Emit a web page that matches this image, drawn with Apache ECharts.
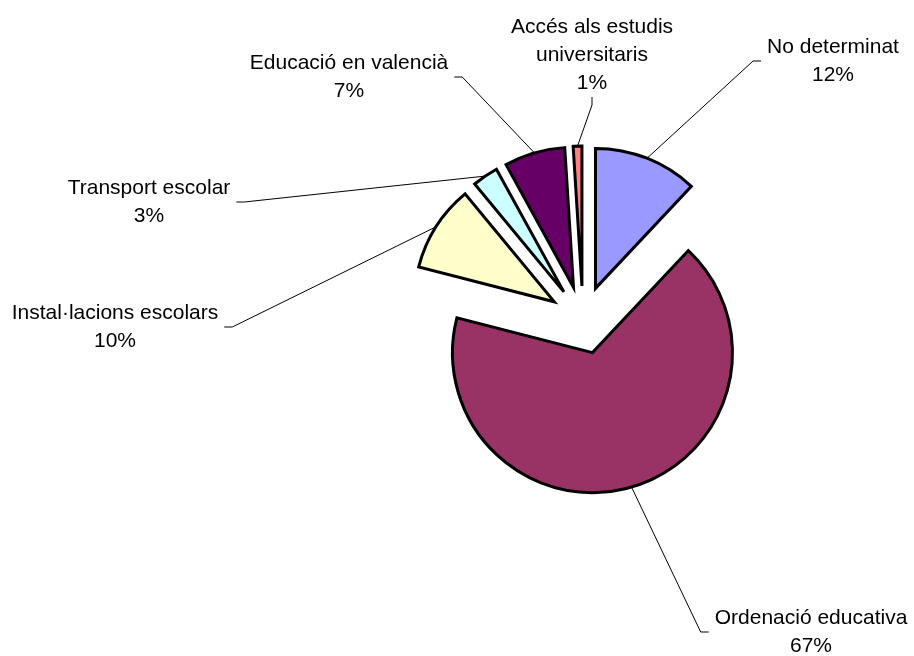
<!DOCTYPE html>
<html>
<head>
<meta charset="utf-8">
<script src="https://cdn.jsdelivr.net/npm/echarts@6/dist/echarts.min.js"></script>
<style>
  html, body { margin: 0; padding: 0; background: #ffffff; }
  #chart { width: 914px; height: 656px; }
</style>
</head>
<body>
<div id="chart"></div>
<script>
// Slices, clockwise from twelve o'clock
const categories = [
  'No determinat',
  'Ordenació educativa',
  'Instal·lacions escolars',
  'Transport escolar',
  'Educació en valencià',
  'Accés als estudis\nuniversitaris'
];
const shares = [12, 67, 10, 3, 7, 1];
const sliceColors = ['#9999FF', '#993366', '#FFFFCC', '#CCFFFF', '#660066', '#FF8080'];

// Where each label block is centred
const labelCentres = [
  [833, 61],
  [811, 632],
  [115, 327],
  [149, 202],
  [349, 77],
  [592, 55]
];

const pieCentre = [583, 320];
const pieRadius = 140;
const explode = 34;

const chart = echarts.init(document.getElementById('chart'), null, { renderer: 'canvas' });

const total = shares.reduce((a, b) => a + b, 0);
const hidden = { color: 'rgba(0,0,0,0)', borderWidth: 0 };

// One series per slice so every slice can be pulled out along its own bisector
const series = categories.map((_, k) => {
  const before = shares.slice(0, k).reduce((a, b) => a + b, 0);
  const mid = (before + shares[k] / 2) / total * 2 * Math.PI;
  const cx = pieCentre[0] + explode * Math.sin(mid);
  const cy = pieCentre[1] - explode * Math.cos(mid);
  return {
    type: 'pie',
    center: [cx, cy],
    radius: pieRadius,
    startAngle: 90,
    clockwise: true,
    avoidLabelOverlap: false,
    silent: true,
    emphasis: { disabled: true },
    data: categories.map((name, i) => {
      const own = i === k;
      return {
        name: name,
        value: shares[i],
        itemStyle: own
          ? { color: sliceColors[i], borderColor: '#000000', borderWidth: 3, borderJoin: 'miter' }
          : hidden,
        label: { show: own },
        labelLine: { show: own }
      };
    }),
    label: {
      position: 'outside',
      formatter: '{b}\n{d}%',
      fontFamily: 'Liberation Sans, Arial, sans-serif',
      fontSize: 21,
      lineHeight: 28,
      color: '#000000',
      align: 'center',
      padding: [0, 6]
    },
    labelLine: {
      length: 20,
      length2: 8,
      smooth: false,
      lineStyle: { color: '#000000', width: 1 }
    },
    labelLayout: function (params) {
      const c = labelCentres[params.dataIndex];
      return { x: c[0], y: c[1], align: 'center', verticalAlign: 'middle' };
    }
  };
});

chart.setOption({
  animation: false,
  backgroundColor: '#ffffff',
  series: series
});
</script>
</body>
</html>
